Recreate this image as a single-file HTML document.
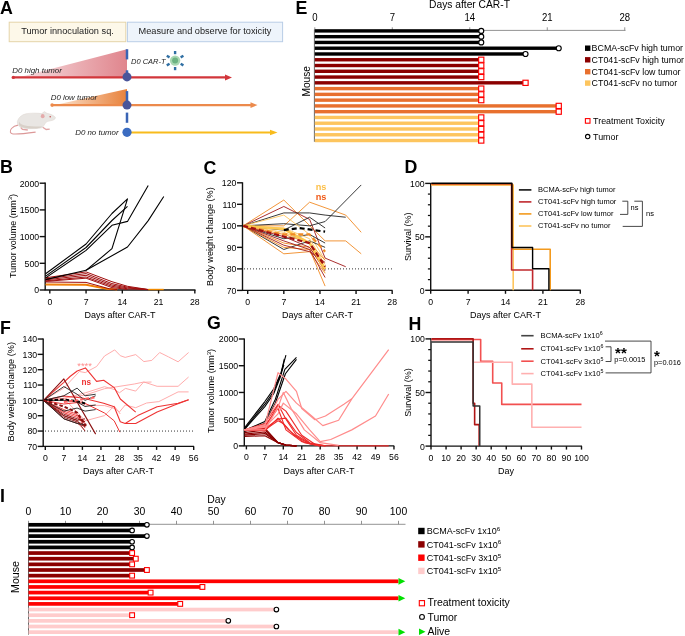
<!DOCTYPE html>
<html><head><meta charset="utf-8"><style>html,body{margin:0;padding:0;background:#fff;width:685px;height:636px;overflow:hidden}svg{display:block}svg,text{font-family:"Liberation Sans",sans-serif}</style></head>
<body><svg style="will-change:transform" width="685" height="636" viewBox="0 0 685 636" font-family="Liberation Sans, sans-serif">
<rect width="685" height="636" fill="#fff"/>
<text x="0.00" y="14.20" font-size="17.8" text-anchor="start" fill="#000" font-weight="bold">A</text>
<rect x="9.20" y="22.20" width="116.60" height="19.50" fill="#fdf8e9" stroke="#e4d4a8" stroke-width="1"/>
<text x="67.50" y="34.00" font-size="9.2" text-anchor="middle" fill="#222">Tumor innoculation sq.</text>
<rect x="127.40" y="22.20" width="155.20" height="19.50" fill="#eef4fb" stroke="#b9cde6" stroke-width="1"/>
<text x="205.00" y="34.00" font-size="9.2" text-anchor="middle" fill="#222">Measure and observe for toxicity</text>
<defs>
<linearGradient id="gr" x1="0" x2="1" y1="0" y2="0"><stop offset="0" stop-color="#f7dfe1"/><stop offset="1" stop-color="#e0858d"/></linearGradient>
<linearGradient id="go" x1="0" x2="1" y1="0" y2="0"><stop offset="0" stop-color="#fbe3cf"/><stop offset="1" stop-color="#e8823c"/></linearGradient>
</defs>
<polygon points="18,77.4 127,49.2 127,77.4" fill="url(#gr)"/>
<line x1="13.30" y1="77.40" x2="226.00" y2="77.40" stroke="#d2363b" stroke-width="2.3"/>
<circle cx="13.30" cy="77.40" r="1.70" fill="#d2363b" stroke="none" stroke-width="1"/>
<polygon points="225,74.4 232,77.4 225,80.4" fill="#d2363b"/>
<text x="12.30" y="73.00" font-size="7.9" text-anchor="start" fill="#222" font-style="italic">D0 high tumor</text>
<line x1="127.00" y1="49.20" x2="127.00" y2="59.40" stroke="#3a64b5" stroke-width="2.5"/>
<line x1="127.00" y1="70.30" x2="127.00" y2="74.00" stroke="#3a64b5" stroke-width="2.5"/>
<circle cx="127.00" cy="76.90" r="4.50" fill="#4a559a" stroke="none" stroke-width="1"/>
<text x="131.00" y="64.40" font-size="7.5" text-anchor="start" fill="#222" font-style="italic">D0 CAR-T</text>
<rect x="173.90" y="51.00" width="2.4" height="3.2" fill="#2f6fa3" transform="rotate(0 175.10 52.60)"/>
<rect x="166.97" y="55.00" width="2.4" height="3.2" fill="#2f6fa3" transform="rotate(-60 168.17 56.60)"/>
<rect x="166.97" y="63.00" width="2.4" height="3.2" fill="#2f6fa3" transform="rotate(-120 168.17 64.60)"/>
<rect x="173.90" y="67.00" width="2.4" height="3.2" fill="#2f6fa3" transform="rotate(-180 175.10 68.60)"/>
<rect x="180.83" y="63.00" width="2.4" height="3.2" fill="#2f6fa3" transform="rotate(-240 182.03 64.60)"/>
<rect x="180.83" y="55.00" width="2.4" height="3.2" fill="#2f6fa3" transform="rotate(-300 182.03 56.60)"/>
<circle cx="175.10" cy="60.60" r="5.20" fill="#a9d8b2" stroke="none" stroke-width="1"/>
<circle cx="175.10" cy="60.60" r="3.00" fill="#6db383" stroke="none" stroke-width="1"/>
<polygon points="55,105.1 127,89 127,105.1" fill="url(#go)"/>
<line x1="52.10" y1="105.10" x2="252.00" y2="105.10" stroke="#ec8a4c" stroke-width="2.2"/>
<circle cx="52.10" cy="105.10" r="1.80" fill="#ec8a4c" stroke="none" stroke-width="1"/>
<polygon points="250.5,102.3 257.5,105.1 250.5,107.9" fill="#ec8a4c"/>
<text x="50.70" y="99.60" font-size="7.9" text-anchor="start" fill="#222" font-style="italic">D0 low tumor</text>
<line x1="127.00" y1="91.10" x2="127.00" y2="101.30" stroke="#3a64b5" stroke-width="2.5"/>
<circle cx="127.00" cy="105.10" r="4.50" fill="#4a559a" stroke="none" stroke-width="1"/>
<line x1="127.00" y1="112.60" x2="127.00" y2="122.80" stroke="#3a64b5" stroke-width="2.5"/>
<line x1="127.00" y1="132.50" x2="271.50" y2="132.50" stroke="#f8bb1c" stroke-width="2.2"/>
<polygon points="270,129.7 277.5,132.5 270,135.3" fill="#f8bb1c"/>
<circle cx="127.00" cy="132.30" r="4.60" fill="#3b6cc1" stroke="none" stroke-width="1"/>
<text x="75.20" y="135.30" font-size="7.9" text-anchor="start" fill="#222" font-style="italic">D0 no tumor</text>
<g>
<path d="M18.1,125.1 C15,125.5 13.2,126.5 11.5,128.5 C9.5,131 10,133.6 13,134 C17,134.3 25,133.6 35.6,132.1" fill="none" stroke="#dc9898" stroke-width="1.1"/>
<path d="M17.3,121.6 C18.5,117.5 21.5,114.8 26,113.8 C31,112.9 37,113 41.8,113.6 L44.4,111.6 L47,113.3 C50,114 53,114.8 55.3,117.2 C55.8,118.4 54.5,119.6 52.7,120.3 C50,121 47.5,121.3 46.2,122.1 C44.5,124.5 43,127 41.8,127.8 C37,128.8 31.3,128.8 26,128.5 C22,128.3 19.5,127.5 18.1,125.1 C17.5,124 17.2,122.8 17.3,121.6 Z" fill="#e9e6e3" stroke="#dcd5cf" stroke-width="0.5"/>
<path d="M19,125.2 C21,127.5 26,128.4 32,128.6 C37,128.7 41,128 42.5,126.5 C38,126.8 30,126.5 24,125.2 C21,124.5 19.5,123 19,121.5 Z" fill="#d8d0c8"/>
<ellipse cx="42.7" cy="116.2" rx="1.9" ry="2.1" fill="#e4aaaa"/>
<circle cx="50.2" cy="116.7" r="0.75" fill="#c04848"/>
<path d="M20.8,127.6 L22.5,129.5 L27.8,130" fill="none" stroke="#e0a4a4" stroke-width="1.3"/>
<path d="M42.7,127.3 L46.2,129.5 L49.7,129.1" fill="none" stroke="#e0a4a4" stroke-width="1.3"/>
</g>
<text x="295.60" y="14.00" font-size="17.8" text-anchor="start" fill="#000" font-weight="bold">E</text>
<text x="469.50" y="8.00" font-size="10.25" text-anchor="middle" fill="#000">Days after CAR-T</text>
<line x1="314.80" y1="30.40" x2="625.50" y2="30.40" stroke="#777" stroke-width="0.8"/>
<line x1="314.40" y1="29.50" x2="314.40" y2="141.80" stroke="#555" stroke-width="0.9"/>
<line x1="314.80" y1="27.30" x2="314.80" y2="30.40" stroke="#777" stroke-width="0.8"/>
<text x="0" y="0" transform="translate(314.80,20.90) scale(0.93,1)" font-size="10.3" text-anchor="middle" fill="#000">0</text>
<line x1="392.29" y1="27.30" x2="392.29" y2="30.40" stroke="#777" stroke-width="0.8"/>
<text x="0" y="0" transform="translate(392.29,20.90) scale(0.93,1)" font-size="10.3" text-anchor="middle" fill="#000">7</text>
<line x1="469.78" y1="27.30" x2="469.78" y2="30.40" stroke="#777" stroke-width="0.8"/>
<text x="0" y="0" transform="translate(469.78,20.90) scale(0.93,1)" font-size="10.3" text-anchor="middle" fill="#000">14</text>
<line x1="547.27" y1="27.30" x2="547.27" y2="30.40" stroke="#777" stroke-width="0.8"/>
<text x="0" y="0" transform="translate(547.27,20.90) scale(0.93,1)" font-size="10.3" text-anchor="middle" fill="#000">21</text>
<line x1="624.76" y1="27.30" x2="624.76" y2="30.40" stroke="#777" stroke-width="0.8"/>
<text x="0" y="0" transform="translate(624.76,20.90) scale(0.93,1)" font-size="10.3" text-anchor="middle" fill="#000">28</text>
<text x="0" y="0" font-size="10.2" text-anchor="middle" fill="#000" transform="translate(310.20,81.30) rotate(-90)">Mouse</text>
<rect x="314.80" y="29.20" width="166.05" height="3.40" fill="#000000" stroke="none" stroke-width="1"/>
<rect x="314.80" y="34.97" width="166.05" height="3.40" fill="#000000" stroke="none" stroke-width="1"/>
<rect x="314.80" y="40.74" width="166.05" height="3.40" fill="#000000" stroke="none" stroke-width="1"/>
<rect x="314.80" y="46.51" width="243.54" height="3.40" fill="#000000" stroke="none" stroke-width="1"/>
<rect x="314.80" y="52.28" width="210.33" height="3.40" fill="#000000" stroke="none" stroke-width="1"/>
<rect x="314.80" y="58.05" width="166.05" height="3.40" fill="#8b0000" stroke="none" stroke-width="1"/>
<rect x="314.80" y="63.82" width="166.05" height="3.40" fill="#8b0000" stroke="none" stroke-width="1"/>
<rect x="314.80" y="69.59" width="166.05" height="3.40" fill="#8b0000" stroke="none" stroke-width="1"/>
<rect x="314.80" y="75.36" width="166.05" height="3.40" fill="#8b0000" stroke="none" stroke-width="1"/>
<rect x="314.80" y="81.13" width="210.33" height="3.40" fill="#8b0000" stroke="none" stroke-width="1"/>
<rect x="314.80" y="86.90" width="166.05" height="3.40" fill="#e8702e" stroke="none" stroke-width="1"/>
<rect x="314.80" y="92.67" width="166.05" height="3.40" fill="#e8702e" stroke="none" stroke-width="1"/>
<rect x="314.80" y="98.44" width="166.05" height="3.40" fill="#e8702e" stroke="none" stroke-width="1"/>
<rect x="314.80" y="104.21" width="243.54" height="3.40" fill="#e8702e" stroke="none" stroke-width="1"/>
<rect x="314.80" y="109.98" width="243.54" height="3.40" fill="#e8702e" stroke="none" stroke-width="1"/>
<rect x="314.80" y="115.75" width="166.05" height="3.40" fill="#fdc55e" stroke="none" stroke-width="1"/>
<rect x="314.80" y="121.52" width="166.05" height="3.40" fill="#fdc55e" stroke="none" stroke-width="1"/>
<rect x="314.80" y="127.29" width="166.05" height="3.40" fill="#fdc55e" stroke="none" stroke-width="1"/>
<rect x="314.80" y="133.06" width="166.05" height="3.40" fill="#fdc55e" stroke="none" stroke-width="1"/>
<rect x="314.80" y="138.83" width="166.05" height="3.40" fill="#fdc55e" stroke="none" stroke-width="1"/>
<circle cx="481.25" cy="30.90" r="2.50" fill="#fff" stroke="#000" stroke-width="1.15"/>
<circle cx="481.25" cy="36.67" r="2.50" fill="#fff" stroke="#000" stroke-width="1.15"/>
<circle cx="481.25" cy="42.44" r="2.50" fill="#fff" stroke="#000" stroke-width="1.15"/>
<circle cx="558.74" cy="48.21" r="2.50" fill="#fff" stroke="#000" stroke-width="1.15"/>
<circle cx="525.53" cy="53.98" r="2.50" fill="#fff" stroke="#000" stroke-width="1.15"/>
<rect x="478.65" y="57.15" width="5.20" height="5.20" fill="#fff" stroke="#f00" stroke-width="1.15"/>
<rect x="478.65" y="62.92" width="5.20" height="5.20" fill="#fff" stroke="#f00" stroke-width="1.15"/>
<rect x="478.65" y="68.69" width="5.20" height="5.20" fill="#fff" stroke="#f00" stroke-width="1.15"/>
<rect x="478.65" y="74.46" width="5.20" height="5.20" fill="#fff" stroke="#f00" stroke-width="1.15"/>
<rect x="522.93" y="80.23" width="5.20" height="5.20" fill="#fff" stroke="#f00" stroke-width="1.15"/>
<rect x="478.65" y="86.00" width="5.20" height="5.20" fill="#fff" stroke="#f00" stroke-width="1.15"/>
<rect x="478.65" y="91.77" width="5.20" height="5.20" fill="#fff" stroke="#f00" stroke-width="1.15"/>
<rect x="478.65" y="97.54" width="5.20" height="5.20" fill="#fff" stroke="#f00" stroke-width="1.15"/>
<rect x="556.14" y="103.31" width="5.20" height="5.20" fill="#fff" stroke="#f00" stroke-width="1.15"/>
<rect x="556.14" y="109.08" width="5.20" height="5.20" fill="#fff" stroke="#f00" stroke-width="1.15"/>
<rect x="478.65" y="114.85" width="5.20" height="5.20" fill="#fff" stroke="#f00" stroke-width="1.15"/>
<rect x="478.65" y="120.62" width="5.20" height="5.20" fill="#fff" stroke="#f00" stroke-width="1.15"/>
<rect x="478.65" y="126.39" width="5.20" height="5.20" fill="#fff" stroke="#f00" stroke-width="1.15"/>
<rect x="478.65" y="132.16" width="5.20" height="5.20" fill="#fff" stroke="#f00" stroke-width="1.15"/>
<rect x="478.65" y="137.93" width="5.20" height="5.20" fill="#fff" stroke="#f00" stroke-width="1.15"/>
<rect x="585.00" y="45.50" width="5.40" height="5.40" fill="#000" stroke="none" stroke-width="1"/>
<text x="591.60" y="51.40" font-size="8.85" text-anchor="start" fill="#000">BCMA-scFv high tumor</text>
<rect x="585.00" y="57.10" width="5.40" height="5.40" fill="#8b0000" stroke="none" stroke-width="1"/>
<text x="591.60" y="63.00" font-size="8.85" text-anchor="start" fill="#000">CT041-scFv high tumor</text>
<rect x="585.00" y="69.00" width="5.40" height="5.40" fill="#e8702e" stroke="none" stroke-width="1"/>
<text x="591.60" y="74.90" font-size="8.85" text-anchor="start" fill="#000">CT041-scFv low tumor</text>
<rect x="585.00" y="80.40" width="5.40" height="5.40" fill="#fdc55e" stroke="none" stroke-width="1"/>
<text x="591.60" y="86.30" font-size="8.85" text-anchor="start" fill="#000">CT041-scFv no tumor</text>
<rect x="585.40" y="118.60" width="4.60" height="4.60" fill="#fff" stroke="#f00" stroke-width="1.1"/>
<text x="593.10" y="124.10" font-size="8.9" text-anchor="start" fill="#000">Treatment Toxicity</text>
<circle cx="587.70" cy="136.60" r="2.20" fill="#fff" stroke="#000" stroke-width="1.1"/>
<text x="593.10" y="139.80" font-size="8.9" text-anchor="start" fill="#000">Tumor</text>
<text x="0.00" y="173.20" font-size="17.8" text-anchor="start" fill="#000" font-weight="bold">B</text>
<line x1="45.20" y1="182.50" x2="45.20" y2="290.00" stroke="#111" stroke-width="1.4"/>
<line x1="39.70" y1="290.00" x2="45.20" y2="290.00" stroke="#111" stroke-width="1.4"/>
<text x="0" y="0" transform="translate(39.10,293.40) scale(0.93,1)" font-size="9.4" text-anchor="end" fill="#000">0</text>
<line x1="39.70" y1="263.30" x2="45.20" y2="263.30" stroke="#111" stroke-width="1.4"/>
<text x="0" y="0" transform="translate(39.10,266.70) scale(0.93,1)" font-size="9.4" text-anchor="end" fill="#000">500</text>
<line x1="39.70" y1="236.60" x2="45.20" y2="236.60" stroke="#111" stroke-width="1.4"/>
<text x="0" y="0" transform="translate(39.10,240.00) scale(0.93,1)" font-size="9.4" text-anchor="end" fill="#000">1000</text>
<line x1="39.70" y1="209.90" x2="45.20" y2="209.90" stroke="#111" stroke-width="1.4"/>
<text x="0" y="0" transform="translate(39.10,213.30) scale(0.93,1)" font-size="9.4" text-anchor="end" fill="#000">1500</text>
<line x1="39.70" y1="183.20" x2="45.20" y2="183.20" stroke="#111" stroke-width="1.4"/>
<text x="0" y="0" transform="translate(39.10,186.60) scale(0.93,1)" font-size="9.4" text-anchor="end" fill="#000">2000</text>
<line x1="44.70" y1="290.00" x2="195.50" y2="290.00" stroke="#111" stroke-width="1.4"/>
<line x1="49.80" y1="290.00" x2="49.80" y2="293.50" stroke="#111" stroke-width="1.4"/>
<text x="0" y="0" transform="translate(49.80,304.50) scale(0.93,1)" font-size="9.4" text-anchor="middle" fill="#000">0</text>
<line x1="86.06" y1="290.00" x2="86.06" y2="293.50" stroke="#111" stroke-width="1.4"/>
<text x="0" y="0" transform="translate(86.06,304.50) scale(0.93,1)" font-size="9.4" text-anchor="middle" fill="#000">7</text>
<line x1="122.32" y1="290.00" x2="122.32" y2="293.50" stroke="#111" stroke-width="1.4"/>
<text x="0" y="0" transform="translate(122.32,304.50) scale(0.93,1)" font-size="9.4" text-anchor="middle" fill="#000">14</text>
<line x1="158.58" y1="290.00" x2="158.58" y2="293.50" stroke="#111" stroke-width="1.4"/>
<text x="0" y="0" transform="translate(158.58,304.50) scale(0.93,1)" font-size="9.4" text-anchor="middle" fill="#000">21</text>
<line x1="194.84" y1="290.00" x2="194.84" y2="293.50" stroke="#111" stroke-width="1.4"/>
<text x="0" y="0" transform="translate(194.84,304.50) scale(0.93,1)" font-size="9.4" text-anchor="middle" fill="#000">28</text>
<text x="120.00" y="318.00" font-size="9.0" text-anchor="middle" fill="#000">Days after CAR-T</text>
<text x="0" y="0" font-size="9.0" text-anchor="middle" transform="translate(15.5,236) rotate(-90)">Tumor volume (mm<tspan font-size="6" dy="-3.5">3</tspan><tspan dy="3.5">)</tspan></text>
<polyline points="45.60,284.10 86.06,284.40 106.78,288.60 117.14,289.50" fill="none" stroke="#f07c00" stroke-width="1.3" stroke-linejoin="round"/>
<polyline points="45.60,284.90 86.06,285.20 106.78,289.00 117.14,289.50" fill="none" stroke="#f07c00" stroke-width="1.3" stroke-linejoin="round"/>
<polyline points="45.60,282.00 86.06,282.40 109.37,288.80 117.14,289.60" fill="none" stroke="#a00d0d" stroke-width="1.0" stroke-linejoin="round"/>
<polyline points="45.60,277.80 86.06,271.90 111.96,281.70 127.50,286.30 148.22,289.50" fill="none" stroke="#a00d0d" stroke-width="1.0" stroke-linejoin="round"/>
<polyline points="45.60,278.80 86.06,273.60 111.96,283.60 127.50,287.20 148.22,289.60" fill="none" stroke="#a00d0d" stroke-width="1.0" stroke-linejoin="round"/>
<polyline points="45.60,279.80 86.06,275.30 111.96,285.00 127.50,288.00 148.22,289.60" fill="none" stroke="#a00d0d" stroke-width="1.0" stroke-linejoin="round"/>
<polyline points="45.60,280.80 86.06,277.00 111.96,286.30 127.50,288.80 148.22,289.60" fill="none" stroke="#a00d0d" stroke-width="1.0" stroke-linejoin="round"/>
<polyline points="45.60,281.40 86.06,278.20 111.96,287.60 127.50,289.40" fill="none" stroke="#a00d0d" stroke-width="1.0" stroke-linejoin="round"/>
<polyline points="148.22,289.50 163.76,289.50" fill="none" stroke="#f08a00" stroke-width="1.4" stroke-linejoin="round"/>
<polyline points="45.60,273.80 86.06,244.00 111.96,213.50 127.50,198.90 111.96,248.70 86.06,270.30 45.60,279.60" fill="none" stroke="#000" stroke-width="1.1" stroke-linejoin="round"/>
<polyline points="45.60,276.10 86.06,247.50 111.96,220.50 127.50,206.40" fill="none" stroke="#000" stroke-width="1.1" stroke-linejoin="round"/>
<polyline points="45.60,277.90 86.06,250.40 111.96,225.30 127.50,221.40 148.22,185.50" fill="none" stroke="#000" stroke-width="1.1" stroke-linejoin="round"/>
<polyline points="86.06,270.30 127.50,247.00 148.22,220.60 163.76,196.50" fill="none" stroke="#000" stroke-width="1.1" stroke-linejoin="round"/>
<text x="203.60" y="173.90" font-size="17.8" text-anchor="start" fill="#000" font-weight="bold">C</text>
<line x1="242.50" y1="182.30" x2="242.50" y2="290.40" stroke="#111" stroke-width="1.4"/>
<line x1="237.00" y1="290.40" x2="242.50" y2="290.40" stroke="#111" stroke-width="1.4"/>
<text x="0" y="0" transform="translate(236.40,293.80) scale(0.93,1)" font-size="9.4" text-anchor="end" fill="#000">70</text>
<line x1="237.00" y1="268.88" x2="242.50" y2="268.88" stroke="#111" stroke-width="1.4"/>
<text x="0" y="0" transform="translate(236.40,272.28) scale(0.93,1)" font-size="9.4" text-anchor="end" fill="#000">80</text>
<line x1="237.00" y1="247.36" x2="242.50" y2="247.36" stroke="#111" stroke-width="1.4"/>
<text x="0" y="0" transform="translate(236.40,250.76) scale(0.93,1)" font-size="9.4" text-anchor="end" fill="#000">90</text>
<line x1="237.00" y1="225.84" x2="242.50" y2="225.84" stroke="#111" stroke-width="1.4"/>
<text x="0" y="0" transform="translate(236.40,229.24) scale(0.93,1)" font-size="9.4" text-anchor="end" fill="#000">100</text>
<line x1="237.00" y1="204.32" x2="242.50" y2="204.32" stroke="#111" stroke-width="1.4"/>
<text x="0" y="0" transform="translate(236.40,207.72) scale(0.93,1)" font-size="9.4" text-anchor="end" fill="#000">110</text>
<line x1="237.00" y1="182.80" x2="242.50" y2="182.80" stroke="#111" stroke-width="1.4"/>
<text x="0" y="0" transform="translate(236.40,186.20) scale(0.93,1)" font-size="9.4" text-anchor="end" fill="#000">120</text>
<line x1="242.00" y1="290.40" x2="392.60" y2="290.40" stroke="#111" stroke-width="1.4"/>
<line x1="247.70" y1="290.40" x2="247.70" y2="293.90" stroke="#111" stroke-width="1.4"/>
<text x="0" y="0" transform="translate(247.70,304.60) scale(0.93,1)" font-size="9.4" text-anchor="middle" fill="#000">0</text>
<line x1="283.82" y1="290.40" x2="283.82" y2="293.90" stroke="#111" stroke-width="1.4"/>
<text x="0" y="0" transform="translate(283.82,304.60) scale(0.93,1)" font-size="9.4" text-anchor="middle" fill="#000">7</text>
<line x1="319.94" y1="290.40" x2="319.94" y2="293.90" stroke="#111" stroke-width="1.4"/>
<text x="0" y="0" transform="translate(319.94,304.60) scale(0.93,1)" font-size="9.4" text-anchor="middle" fill="#000">14</text>
<line x1="356.06" y1="290.40" x2="356.06" y2="293.90" stroke="#111" stroke-width="1.4"/>
<text x="0" y="0" transform="translate(356.06,304.60) scale(0.93,1)" font-size="9.4" text-anchor="middle" fill="#000">21</text>
<line x1="392.18" y1="290.40" x2="392.18" y2="293.90" stroke="#111" stroke-width="1.4"/>
<text x="0" y="0" transform="translate(392.18,304.60) scale(0.93,1)" font-size="9.4" text-anchor="middle" fill="#000">28</text>
<text x="317.60" y="318.20" font-size="9.0" text-anchor="middle" fill="#000">Days after CAR-T</text>
<text x="0" y="0" font-size="9.1" text-anchor="middle" fill="#000" transform="translate(212.70,236.60) rotate(-90)">Body weight change (%)</text>
<line x1="244" y1="268.88" x2="392" y2="268.88" stroke="#333" stroke-width="1" stroke-dasharray="1,2"/>
<polyline points="243.20,225.84 283.82,200.02 325.10,240.90 345.74,240.90 361.22,253.82" fill="none" stroke="#f08a24" stroke-width="0.9" stroke-linejoin="round"/>
<polyline points="243.20,225.84 283.82,225.84 309.62,202.17 345.74,215.08 361.22,232.30" fill="none" stroke="#f08a24" stroke-width="0.9" stroke-linejoin="round"/>
<polyline points="243.20,225.84 283.82,206.47 309.62,219.38 325.10,258.12 345.74,266.73" fill="none" stroke="#a01818" stroke-width="0.9" stroke-linejoin="round"/>
<polyline points="243.20,225.84 283.82,212.93 309.62,212.93 325.10,215.08 345.74,217.23" fill="none" stroke="#222" stroke-width="0.9" stroke-linejoin="round"/>
<polyline points="243.20,225.84 283.82,223.69 309.62,225.84 325.10,221.54 361.22,184.95" fill="none" stroke="#222" stroke-width="0.9" stroke-linejoin="round"/>
<polyline points="243.20,225.84 283.82,230.14 309.62,217.23 325.10,227.99" fill="none" stroke="#222" stroke-width="0.9" stroke-linejoin="round"/>
<polyline points="243.20,225.84 283.82,215.08 309.62,234.45 325.10,260.27" fill="none" stroke="#fdc55e" stroke-width="0.9" stroke-linejoin="round"/>
<polyline points="243.20,225.84 283.82,249.51 309.62,240.90 325.10,247.36" fill="none" stroke="#222" stroke-width="0.9" stroke-linejoin="round"/>
<polyline points="243.20,225.84 283.82,238.75 309.62,234.45 325.10,243.06" fill="none" stroke="#222" stroke-width="0.9" stroke-linejoin="round"/>
<polyline points="243.20,225.84 283.82,253.82 309.62,251.66 325.10,273.18" fill="none" stroke="#f08a24" stroke-width="0.9" stroke-linejoin="round"/>
<polyline points="243.20,225.84 283.82,247.36 309.62,249.51 325.10,286.10" fill="none" stroke="#f08a24" stroke-width="0.9" stroke-linejoin="round"/>
<polyline points="243.20,225.84 283.82,243.06 309.62,247.36 325.10,268.88" fill="none" stroke="#f08a24" stroke-width="0.9" stroke-linejoin="round"/>
<polyline points="243.20,225.84 283.82,240.90 309.62,249.51 325.10,277.49" fill="none" stroke="#a01818" stroke-width="0.9" stroke-linejoin="round"/>
<polyline points="243.20,225.84 283.82,236.60 309.62,247.36 325.10,271.03" fill="none" stroke="#a01818" stroke-width="0.9" stroke-linejoin="round"/>
<polyline points="243.20,225.84 283.82,232.30 309.62,243.06 325.10,273.18" fill="none" stroke="#fdc55e" stroke-width="0.9" stroke-linejoin="round"/>
<polyline points="243.20,225.84 283.82,227.99 309.62,238.75 325.10,264.58" fill="none" stroke="#fdc55e" stroke-width="0.9" stroke-linejoin="round"/>
<polyline points="243.20,225.84 283.82,234.45 309.62,243.06 325.10,260.27" fill="none" stroke="#f08a24" stroke-width="0.9" stroke-linejoin="round"/>
<polyline points="243.20,225.84 283.82,245.21 309.62,251.66 325.10,262.42" fill="none" stroke="#a01818" stroke-width="0.9" stroke-linejoin="round"/>
<polyline points="243.20,225.84 283.82,229.07 309.62,243.06 325.10,268.88" fill="none" stroke="#fcc850" stroke-width="2.6" stroke-linejoin="round"/>
<polyline points="283.82,230.14 299.30,227.99 325.10,231.65" fill="none" stroke="#000" stroke-width="2.2" stroke-linejoin="round" stroke-dasharray="5,3"/>
<polyline points="243.20,225.84 283.82,234.45 309.62,234.45 325.10,251.66" fill="none" stroke="#f08a24" stroke-width="2.2" stroke-linejoin="round" stroke-dasharray="5,3"/>
<polyline points="243.20,225.84 283.82,236.60 309.62,243.06 325.10,266.73" fill="none" stroke="#a01010" stroke-width="2.2" stroke-linejoin="round" stroke-dasharray="5,3"/>
<text x="321.00" y="190.00" font-size="9.2" text-anchor="middle" fill="#fcbf48" font-weight="bold">ns</text>
<text x="321.00" y="199.80" font-size="9.2" text-anchor="middle" fill="#f05a18" font-weight="bold">ns</text>
<text x="404.50" y="173.00" font-size="17.8" text-anchor="start" fill="#000" font-weight="bold">D</text>
<line x1="430.70" y1="182.90" x2="430.70" y2="290.30" stroke="#111" stroke-width="1.4"/>
<line x1="425.20" y1="290.30" x2="430.70" y2="290.30" stroke="#111" stroke-width="1.4"/>
<text x="0" y="0" transform="translate(424.60,293.70) scale(0.93,1)" font-size="9.4" text-anchor="end" fill="#000">0</text>
<line x1="425.20" y1="236.85" x2="430.70" y2="236.85" stroke="#111" stroke-width="1.4"/>
<text x="0" y="0" transform="translate(424.60,240.25) scale(0.93,1)" font-size="9.4" text-anchor="end" fill="#000">50</text>
<line x1="425.20" y1="183.40" x2="430.70" y2="183.40" stroke="#111" stroke-width="1.4"/>
<text x="0" y="0" transform="translate(424.60,186.80) scale(0.93,1)" font-size="9.4" text-anchor="end" fill="#000">100</text>
<line x1="427.90" y1="279.61" x2="430.70" y2="279.61" stroke="#111" stroke-width="1.26"/>
<line x1="427.90" y1="268.92" x2="430.70" y2="268.92" stroke="#111" stroke-width="1.26"/>
<line x1="427.90" y1="258.23" x2="430.70" y2="258.23" stroke="#111" stroke-width="1.26"/>
<line x1="427.90" y1="247.54" x2="430.70" y2="247.54" stroke="#111" stroke-width="1.26"/>
<line x1="427.90" y1="226.16" x2="430.70" y2="226.16" stroke="#111" stroke-width="1.26"/>
<line x1="427.90" y1="215.47" x2="430.70" y2="215.47" stroke="#111" stroke-width="1.26"/>
<line x1="427.90" y1="204.78" x2="430.70" y2="204.78" stroke="#111" stroke-width="1.26"/>
<line x1="427.90" y1="194.09" x2="430.70" y2="194.09" stroke="#111" stroke-width="1.26"/>
<line x1="430.20" y1="290.30" x2="580.80" y2="290.30" stroke="#111" stroke-width="1.4"/>
<line x1="430.70" y1="290.30" x2="430.70" y2="293.80" stroke="#111" stroke-width="1.4"/>
<text x="0" y="0" transform="translate(430.70,304.60) scale(0.93,1)" font-size="9.4" text-anchor="middle" fill="#000">0</text>
<line x1="468.10" y1="290.30" x2="468.10" y2="293.80" stroke="#111" stroke-width="1.4"/>
<text x="0" y="0" transform="translate(468.10,304.60) scale(0.93,1)" font-size="9.4" text-anchor="middle" fill="#000">7</text>
<line x1="505.50" y1="290.30" x2="505.50" y2="293.80" stroke="#111" stroke-width="1.4"/>
<text x="0" y="0" transform="translate(505.50,304.60) scale(0.93,1)" font-size="9.4" text-anchor="middle" fill="#000">14</text>
<line x1="542.90" y1="290.30" x2="542.90" y2="293.80" stroke="#111" stroke-width="1.4"/>
<text x="0" y="0" transform="translate(542.90,304.60) scale(0.93,1)" font-size="9.4" text-anchor="middle" fill="#000">21</text>
<line x1="580.30" y1="290.30" x2="580.30" y2="293.80" stroke="#111" stroke-width="1.4"/>
<text x="0" y="0" transform="translate(580.30,304.60) scale(0.93,1)" font-size="9.4" text-anchor="middle" fill="#000">28</text>
<text x="505.50" y="318.20" font-size="9.0" text-anchor="middle" fill="#000">Days after CAR-T</text>
<text x="0" y="0" font-size="9.0" text-anchor="middle" fill="#000" transform="translate(411.00,236.80) rotate(-90)">Survival (%)</text>
<polyline points="431.30,185.00 513.20,185.00 513.20,290.30" fill="none" stroke="#fdc55e" stroke-width="1.6" stroke-linejoin="round"/>
<polyline points="431.30,184.40 512.50,184.40 512.50,249.30 550.20,249.30 550.20,290.30" fill="none" stroke="#f39a1e" stroke-width="1.6" stroke-linejoin="round"/>
<polyline points="431.30,183.80 511.60,183.80 511.60,270.00 532.60,270.00 532.60,290.30" fill="none" stroke="#c0282d" stroke-width="1.6" stroke-linejoin="round"/>
<polyline points="431.30,183.20 511.90,183.20 511.90,247.50 532.60,247.50 532.60,268.70 548.90,268.70 548.90,290.30" fill="none" stroke="#000" stroke-width="1.4" stroke-linejoin="round"/>
<line x1="518.90" y1="189.90" x2="531.40" y2="189.90" stroke="#111" stroke-width="1.6"/>
<text x="538.00" y="191.90" font-size="7.5" text-anchor="start" fill="#000">BCMA-scFv high tumor</text>
<line x1="518.90" y1="201.90" x2="531.40" y2="201.90" stroke="#c0282d" stroke-width="1.6"/>
<text x="538.00" y="203.90" font-size="7.5" text-anchor="start" fill="#000">CT041-scFv high tumor</text>
<line x1="518.90" y1="213.90" x2="531.40" y2="213.90" stroke="#f39a1e" stroke-width="1.6"/>
<text x="538.00" y="215.90" font-size="7.5" text-anchor="start" fill="#000">CT041-scFv low tumor</text>
<line x1="518.90" y1="226.00" x2="531.40" y2="226.00" stroke="#fdc55e" stroke-width="1.6"/>
<text x="538.00" y="228.00" font-size="7.5" text-anchor="start" fill="#000">CT041-scFv no tumor</text>
<polyline points="622.30,201.20 627.80,201.20 627.80,214.40 620.00,214.40" fill="none" stroke="#333" stroke-width="0.9" stroke-linejoin="round"/>
<text x="634.50" y="209.60" font-size="7.5" text-anchor="middle" fill="#000">ns</text>
<polyline points="634.30,201.20 642.40,201.20 642.40,226.40 622.70,226.40" fill="none" stroke="#333" stroke-width="0.9" stroke-linejoin="round"/>
<text x="650.00" y="215.80" font-size="7.5" text-anchor="middle" fill="#000">ns</text>
<text x="0.00" y="333.60" font-size="17.8" text-anchor="start" fill="#000" font-weight="bold">F</text>
<line x1="43.20" y1="338.50" x2="43.20" y2="446.40" stroke="#111" stroke-width="1.4"/>
<line x1="37.70" y1="446.40" x2="43.20" y2="446.40" stroke="#111" stroke-width="1.4"/>
<text x="0" y="0" transform="translate(37.10,449.80) scale(0.93,1)" font-size="9.4" text-anchor="end" fill="#000">70</text>
<line x1="37.70" y1="431.06" x2="43.20" y2="431.06" stroke="#111" stroke-width="1.4"/>
<text x="0" y="0" transform="translate(37.10,434.46) scale(0.93,1)" font-size="9.4" text-anchor="end" fill="#000">80</text>
<line x1="37.70" y1="415.72" x2="43.20" y2="415.72" stroke="#111" stroke-width="1.4"/>
<text x="0" y="0" transform="translate(37.10,419.12) scale(0.93,1)" font-size="9.4" text-anchor="end" fill="#000">90</text>
<line x1="37.70" y1="400.38" x2="43.20" y2="400.38" stroke="#111" stroke-width="1.4"/>
<text x="0" y="0" transform="translate(37.10,403.78) scale(0.93,1)" font-size="9.4" text-anchor="end" fill="#000">100</text>
<line x1="37.70" y1="385.04" x2="43.20" y2="385.04" stroke="#111" stroke-width="1.4"/>
<text x="0" y="0" transform="translate(37.10,388.44) scale(0.93,1)" font-size="9.4" text-anchor="end" fill="#000">110</text>
<line x1="37.70" y1="369.70" x2="43.20" y2="369.70" stroke="#111" stroke-width="1.4"/>
<text x="0" y="0" transform="translate(37.10,373.10) scale(0.93,1)" font-size="9.4" text-anchor="end" fill="#000">120</text>
<line x1="37.70" y1="354.36" x2="43.20" y2="354.36" stroke="#111" stroke-width="1.4"/>
<text x="0" y="0" transform="translate(37.10,357.76) scale(0.93,1)" font-size="9.4" text-anchor="end" fill="#000">130</text>
<line x1="37.70" y1="339.02" x2="43.20" y2="339.02" stroke="#111" stroke-width="1.4"/>
<text x="0" y="0" transform="translate(37.10,342.42) scale(0.93,1)" font-size="9.4" text-anchor="end" fill="#000">140</text>
<line x1="42.70" y1="446.40" x2="194.10" y2="446.40" stroke="#111" stroke-width="1.4"/>
<line x1="45.30" y1="446.40" x2="45.30" y2="449.90" stroke="#111" stroke-width="1.4"/>
<text x="0" y="0" transform="translate(45.30,460.60) scale(0.93,1)" font-size="9.4" text-anchor="middle" fill="#000">0</text>
<line x1="63.85" y1="446.40" x2="63.85" y2="449.90" stroke="#111" stroke-width="1.4"/>
<text x="0" y="0" transform="translate(63.85,460.60) scale(0.93,1)" font-size="9.4" text-anchor="middle" fill="#000">7</text>
<line x1="82.40" y1="446.40" x2="82.40" y2="449.90" stroke="#111" stroke-width="1.4"/>
<text x="0" y="0" transform="translate(82.40,460.60) scale(0.93,1)" font-size="9.4" text-anchor="middle" fill="#000">14</text>
<line x1="100.95" y1="446.40" x2="100.95" y2="449.90" stroke="#111" stroke-width="1.4"/>
<text x="0" y="0" transform="translate(100.95,460.60) scale(0.93,1)" font-size="9.4" text-anchor="middle" fill="#000">21</text>
<line x1="119.50" y1="446.40" x2="119.50" y2="449.90" stroke="#111" stroke-width="1.4"/>
<text x="0" y="0" transform="translate(119.50,460.60) scale(0.93,1)" font-size="9.4" text-anchor="middle" fill="#000">28</text>
<line x1="138.05" y1="446.40" x2="138.05" y2="449.90" stroke="#111" stroke-width="1.4"/>
<text x="0" y="0" transform="translate(138.05,460.60) scale(0.93,1)" font-size="9.4" text-anchor="middle" fill="#000">35</text>
<line x1="156.60" y1="446.40" x2="156.60" y2="449.90" stroke="#111" stroke-width="1.4"/>
<text x="0" y="0" transform="translate(156.60,460.60) scale(0.93,1)" font-size="9.4" text-anchor="middle" fill="#000">42</text>
<line x1="175.15" y1="446.40" x2="175.15" y2="449.90" stroke="#111" stroke-width="1.4"/>
<text x="0" y="0" transform="translate(175.15,460.60) scale(0.93,1)" font-size="9.4" text-anchor="middle" fill="#000">49</text>
<line x1="193.70" y1="446.40" x2="193.70" y2="449.90" stroke="#111" stroke-width="1.4"/>
<text x="0" y="0" transform="translate(193.70,460.60) scale(0.93,1)" font-size="9.4" text-anchor="middle" fill="#000">56</text>
<text x="118.60" y="474.40" font-size="9.0" text-anchor="middle" fill="#000">Days after CAR-T</text>
<text x="0" y="0" font-size="9.2" text-anchor="middle" fill="#000" transform="translate(13.70,391.80) rotate(-90)">Body weight change (%)</text>
<line x1="45" y1="431.06" x2="193" y2="431.06" stroke="#333" stroke-width="1" stroke-dasharray="1,2"/>
<polyline points="43.60,400.38 63.85,388.11 79.40,371.50 85.30,372.60 88.20,371.00 96.60,366.50 104.50,356.00 114.70,349.90 120.30,355.70 125.20,357.40 135.70,354.60 143.90,361.60 151.80,360.40 159.70,352.50 168.50,356.90 178.10,361.80 188.60,352.50" fill="none" stroke="#ffa3a3" stroke-width="0.9" stroke-linejoin="round"/>
<polyline points="43.60,400.38 63.85,398.38 85.30,392.80 104.50,386.70 115.00,389.70 119.40,392.80 125.50,388.40 135.70,391.10 143.40,382.30 151.50,382.00" fill="none" stroke="#ffa3a3" stroke-width="0.9" stroke-linejoin="round"/>
<polyline points="43.60,400.38 63.85,398.38 85.30,395.00 104.50,388.70 134.30,384.00 143.90,382.00 157.10,386.30 178.10,386.30 188.60,377.00" fill="none" stroke="#ffa3a3" stroke-width="0.9" stroke-linejoin="round"/>
<polyline points="43.60,400.38 63.85,398.38 85.30,405.00 104.50,405.60 115.00,408.60 119.40,412.00 125.20,405.00 135.70,407.70 146.60,403.00 158.80,401.60 178.10,391.90 188.60,391.90" fill="none" stroke="#ffa3a3" stroke-width="0.9" stroke-linejoin="round"/>
<polyline points="43.60,400.38 63.85,398.38 85.30,420.80 104.50,415.60 114.20,406.00 120.30,414.00" fill="none" stroke="#ffa3a3" stroke-width="0.9" stroke-linejoin="round"/>
<polyline points="43.60,400.38 63.60,412.00 72.00,418.00 85.30,431.00" fill="none" stroke="#ffa3a3" stroke-width="0.9" stroke-linejoin="round"/>
<polyline points="43.60,400.38 63.85,382.30 70.00,376.50 77.20,371.00 85.40,367.90 96.60,381.40 103.70,380.20 114.20,387.60 120.30,399.00 135.70,412.10" fill="none" stroke="#ee3333" stroke-width="1.1" stroke-linejoin="round"/>
<polyline points="43.60,400.38 63.85,396.00 82.40,398.00 103.70,403.30 114.20,406.80 120.30,421.70 125.20,423.50 135.70,423.50 157.10,412.10 174.60,405.10 188.60,399.80" fill="none" stroke="#ee3333" stroke-width="1.1" stroke-linejoin="round"/>
<polyline points="125.20,423.50 137.80,415.60 157.10,406.80 178.10,403.30 188.60,399.80" fill="none" stroke="#ee3333" stroke-width="1.1" stroke-linejoin="round"/>
<polyline points="43.60,400.38 63.85,404.00 82.40,402.00 104.50,413.00 114.20,420.80 119.90,432.20" fill="none" stroke="#ee3333" stroke-width="1.0" stroke-linejoin="round"/>
<polyline points="43.60,400.38 63.85,378.90 95.65,434.13" fill="none" stroke="#8b1010" stroke-width="1.1" stroke-linejoin="round"/>
<polyline points="43.60,400.38 63.85,409.58 77.10,414.19 85.05,427.99" fill="none" stroke="#ee3333" stroke-width="0.9" stroke-linejoin="round"/>
<polyline points="43.60,400.38 63.85,412.65 77.10,417.25 85.05,423.39" fill="none" stroke="#ee3333" stroke-width="0.9" stroke-linejoin="round"/>
<polyline points="43.60,400.38 63.85,411.12 77.10,415.72 85.05,421.86" fill="none" stroke="#ee3333" stroke-width="0.9" stroke-linejoin="round"/>
<polyline points="43.60,400.38 63.85,415.72 77.10,420.32 85.05,418.79" fill="none" stroke="#8b1010" stroke-width="0.9" stroke-linejoin="round"/>
<polyline points="43.60,400.38 63.85,417.25 77.10,421.86 85.05,424.92" fill="none" stroke="#8b1010" stroke-width="0.9" stroke-linejoin="round"/>
<polyline points="43.60,400.38 63.85,418.79 77.10,423.39 85.05,426.46" fill="none" stroke="#8b1010" stroke-width="0.9" stroke-linejoin="round"/>
<polyline points="43.60,400.38 63.85,414.19 77.10,418.79 85.05,421.86" fill="none" stroke="#8b1010" stroke-width="0.9" stroke-linejoin="round"/>
<polyline points="43.60,400.38 63.85,415.72 77.10,420.32 85.05,431.06" fill="none" stroke="#8b1010" stroke-width="0.9" stroke-linejoin="round"/>
<polyline points="43.60,400.38 63.85,386.57 77.10,394.24 85.05,400.38 95.65,395.78" fill="none" stroke="#222" stroke-width="0.9" stroke-linejoin="round"/>
<polyline points="43.60,400.38 63.85,395.78 77.10,388.11 85.05,395.78 95.65,394.24" fill="none" stroke="#222" stroke-width="0.9" stroke-linejoin="round"/>
<polyline points="43.60,400.38 63.85,400.38 77.10,401.91 85.05,406.52 95.65,404.98" fill="none" stroke="#222" stroke-width="0.9" stroke-linejoin="round"/>
<polyline points="43.60,400.38 63.85,411.12 77.10,408.05 85.05,411.12 95.65,409.58" fill="none" stroke="#222" stroke-width="0.9" stroke-linejoin="round"/>
<polyline points="43.60,400.38 63.85,418.79 77.10,423.39 85.05,424.92" fill="none" stroke="#222" stroke-width="0.9" stroke-linejoin="round"/>
<polyline points="43.60,400.38 63.85,399.61 77.10,401.15 85.05,403.45" fill="none" stroke="#000" stroke-width="2.0" stroke-linejoin="round" stroke-dasharray="3.5,2"/>
<polyline points="43.60,400.38 63.85,406.52 77.10,412.65 85.05,424.92" fill="none" stroke="#8b1010" stroke-width="2.0" stroke-linejoin="round" stroke-dasharray="3.5,2"/>
<polyline points="63.85,401.91 77.10,400.38 85.05,398.85 95.65,397.31" fill="none" stroke="#ff6060" stroke-width="2.0" stroke-linejoin="round" stroke-dasharray="3.5,2"/>
<circle cx="85.05" cy="424.92" r="1.60" fill="#8b1010" stroke="none" stroke-width="1"/>
<text x="84.60" y="369.30" font-size="9.3" text-anchor="middle" fill="#ff8e8e">****</text>
<text x="86.35" y="385.30" font-size="8.2" text-anchor="middle" fill="#ee3333" font-weight="bold">ns</text>
<text x="207.00" y="329.20" font-size="17.8" text-anchor="start" fill="#000" font-weight="bold">G</text>
<line x1="244.30" y1="338.50" x2="244.30" y2="445.90" stroke="#111" stroke-width="1.4"/>
<line x1="238.80" y1="445.90" x2="244.30" y2="445.90" stroke="#111" stroke-width="1.4"/>
<text x="0" y="0" transform="translate(238.20,449.30) scale(0.93,1)" font-size="9.4" text-anchor="end" fill="#000">0</text>
<line x1="238.80" y1="419.17" x2="244.30" y2="419.17" stroke="#111" stroke-width="1.4"/>
<text x="0" y="0" transform="translate(238.20,422.57) scale(0.93,1)" font-size="9.4" text-anchor="end" fill="#000">500</text>
<line x1="238.80" y1="392.45" x2="244.30" y2="392.45" stroke="#111" stroke-width="1.4"/>
<text x="0" y="0" transform="translate(238.20,395.85) scale(0.93,1)" font-size="9.4" text-anchor="end" fill="#000">1000</text>
<line x1="238.80" y1="365.72" x2="244.30" y2="365.72" stroke="#111" stroke-width="1.4"/>
<text x="0" y="0" transform="translate(238.20,369.12) scale(0.93,1)" font-size="9.4" text-anchor="end" fill="#000">1500</text>
<line x1="238.80" y1="339.00" x2="244.30" y2="339.00" stroke="#111" stroke-width="1.4"/>
<text x="0" y="0" transform="translate(238.20,342.40) scale(0.93,1)" font-size="9.4" text-anchor="end" fill="#000">2000</text>
<line x1="243.80" y1="445.90" x2="394.30" y2="445.90" stroke="#111" stroke-width="1.4"/>
<line x1="246.40" y1="445.90" x2="246.40" y2="449.40" stroke="#111" stroke-width="1.4"/>
<text x="0" y="0" transform="translate(246.40,459.60) scale(0.93,1)" font-size="9.4" text-anchor="middle" fill="#000">0</text>
<line x1="264.85" y1="445.90" x2="264.85" y2="449.40" stroke="#111" stroke-width="1.4"/>
<text x="0" y="0" transform="translate(264.85,459.60) scale(0.93,1)" font-size="9.4" text-anchor="middle" fill="#000">7</text>
<line x1="283.29" y1="445.90" x2="283.29" y2="449.40" stroke="#111" stroke-width="1.4"/>
<text x="0" y="0" transform="translate(283.29,459.60) scale(0.93,1)" font-size="9.4" text-anchor="middle" fill="#000">14</text>
<line x1="301.74" y1="445.90" x2="301.74" y2="449.40" stroke="#111" stroke-width="1.4"/>
<text x="0" y="0" transform="translate(301.74,459.60) scale(0.93,1)" font-size="9.4" text-anchor="middle" fill="#000">21</text>
<line x1="320.18" y1="445.90" x2="320.18" y2="449.40" stroke="#111" stroke-width="1.4"/>
<text x="0" y="0" transform="translate(320.18,459.60) scale(0.93,1)" font-size="9.4" text-anchor="middle" fill="#000">28</text>
<line x1="338.62" y1="445.90" x2="338.62" y2="449.40" stroke="#111" stroke-width="1.4"/>
<text x="0" y="0" transform="translate(338.62,459.60) scale(0.93,1)" font-size="9.4" text-anchor="middle" fill="#000">35</text>
<line x1="357.07" y1="445.90" x2="357.07" y2="449.40" stroke="#111" stroke-width="1.4"/>
<text x="0" y="0" transform="translate(357.07,459.60) scale(0.93,1)" font-size="9.4" text-anchor="middle" fill="#000">42</text>
<line x1="375.51" y1="445.90" x2="375.51" y2="449.40" stroke="#111" stroke-width="1.4"/>
<text x="0" y="0" transform="translate(375.51,459.60) scale(0.93,1)" font-size="9.4" text-anchor="middle" fill="#000">49</text>
<line x1="393.96" y1="445.90" x2="393.96" y2="449.40" stroke="#111" stroke-width="1.4"/>
<text x="0" y="0" transform="translate(393.96,459.60) scale(0.93,1)" font-size="9.4" text-anchor="middle" fill="#000">56</text>
<text x="319.00" y="474.00" font-size="9.0" text-anchor="middle" fill="#000">Days after CAR-T</text>
<text x="0" y="0" font-size="9.0" text-anchor="middle" transform="translate(214.3,391) rotate(-90)">Tumor volume (mm<tspan font-size="6" dy="-3.5">3</tspan><tspan dy="3.5">)</tspan></text>
<polyline points="244.50,427.73 264.85,401.54 273.80,388.82 281.18,372.41 285.93,355.20" fill="none" stroke="#000" stroke-width="1.1" stroke-linejoin="round"/>
<polyline points="244.50,428.80 264.85,404.21 273.80,391.38 280.65,374.81 284.34,358.99" fill="none" stroke="#000" stroke-width="1.1" stroke-linejoin="round"/>
<polyline points="244.50,429.33 264.85,406.61 273.80,393.52 280.13,377.48 283.82,364.92" fill="none" stroke="#000" stroke-width="1.1" stroke-linejoin="round"/>
<polyline points="244.50,430.40 264.85,421.58 275.38,399.29 284.87,369.41 296.47,357.49" fill="none" stroke="#000" stroke-width="1.1" stroke-linejoin="round"/>
<polyline points="244.50,431.47 264.85,423.45 275.38,403.03 285.40,373.74 296.47,359.31" fill="none" stroke="#000" stroke-width="1.1" stroke-linejoin="round"/>
<polyline points="244.50,436.28 264.85,435.74 278.02,442.69 285.93,445.10 296.47,445.90" fill="none" stroke="#8b0000" stroke-width="1.2" stroke-linejoin="round"/>
<polyline points="244.50,435.21 264.85,433.61 278.02,442.69 285.93,445.10 296.47,445.90" fill="none" stroke="#8b0000" stroke-width="1.2" stroke-linejoin="round"/>
<polyline points="244.50,434.14 264.85,432.00 278.02,442.69 285.93,445.10 296.47,445.90" fill="none" stroke="#8b0000" stroke-width="1.2" stroke-linejoin="round"/>
<polyline points="244.50,432.54 264.85,429.86 278.02,442.69 285.93,445.10 296.47,445.90" fill="none" stroke="#8b0000" stroke-width="1.2" stroke-linejoin="round"/>
<polyline points="244.50,430.93 264.85,428.26 278.02,442.69 285.93,445.10 296.47,445.90" fill="none" stroke="#8b0000" stroke-width="1.2" stroke-linejoin="round"/>
<polyline points="244.50,429.86 264.85,423.45 278.02,404.21 285.93,419.17 296.47,435.21 309.64,443.23 320.18,445.63 388.69,445.90" fill="none" stroke="#ee2a2a" stroke-width="1.1" stroke-linejoin="round"/>
<polyline points="244.50,429.86 264.85,425.59 278.02,408.48 285.93,429.86 301.74,441.62 320.18,445.90" fill="none" stroke="#ee2a2a" stroke-width="1.1" stroke-linejoin="round"/>
<polyline points="244.50,429.86 264.85,428.80 278.02,419.17 285.93,418.11 296.47,432.54 309.64,442.69 325.45,445.90" fill="none" stroke="#ee2a2a" stroke-width="1.1" stroke-linejoin="round"/>
<polyline points="244.50,429.86 264.85,429.86 278.02,420.78 283.29,423.45 293.83,435.21 309.64,443.76 320.18,445.90" fill="none" stroke="#ee2a2a" stroke-width="1.1" stroke-linejoin="round"/>
<polyline points="244.50,429.86 264.85,427.73 278.02,405.28 285.93,411.16 301.74,435.21 314.91,444.30 325.45,445.90" fill="none" stroke="#ee2a2a" stroke-width="1.1" stroke-linejoin="round"/>
<polyline points="244.50,429.86 264.85,430.93 278.02,418.11 288.56,429.86 304.37,442.69 320.18,445.90" fill="none" stroke="#ee2a2a" stroke-width="1.1" stroke-linejoin="round"/>
<polyline points="244.50,429.86 264.85,425.59 278.02,372.67 285.93,379.09 296.47,391.38 301.74,408.48 314.91,419.71 325.45,415.97 343.89,404.21 351.80,398.86 388.69,349.69" fill="none" stroke="#ff8c8c" stroke-width="1.2" stroke-linejoin="round"/>
<polyline points="244.50,429.86 264.85,424.52 278.02,399.40 285.93,391.38 296.47,403.14 312.27,416.50 322.81,425.59 338.62,420.24 351.80,398.86" fill="none" stroke="#ff8c8c" stroke-width="1.2" stroke-linejoin="round"/>
<polyline points="244.50,429.86 264.85,427.19 278.02,413.83 283.29,403.14 296.47,413.83 309.64,429.86 320.18,441.62 330.72,439.49 351.80,429.86 375.51,415.97 388.69,394.05" fill="none" stroke="#ff8c8c" stroke-width="1.2" stroke-linejoin="round"/>
<polyline points="244.50,429.86 264.85,429.86 278.02,407.42 283.29,392.45 291.19,408.48 304.37,429.86 320.18,442.69 338.62,445.37" fill="none" stroke="#ff8c8c" stroke-width="1.2" stroke-linejoin="round"/>
<text x="408.60" y="329.90" font-size="17.8" text-anchor="start" fill="#000" font-weight="bold">H</text>
<line x1="431.00" y1="338.40" x2="431.00" y2="446.10" stroke="#111" stroke-width="1.4"/>
<line x1="425.50" y1="446.10" x2="431.00" y2="446.10" stroke="#111" stroke-width="1.4"/>
<text x="0" y="0" transform="translate(424.90,449.50) scale(0.93,1)" font-size="9.4" text-anchor="end" fill="#000">0</text>
<line x1="425.50" y1="392.50" x2="431.00" y2="392.50" stroke="#111" stroke-width="1.4"/>
<text x="0" y="0" transform="translate(424.90,395.90) scale(0.93,1)" font-size="9.4" text-anchor="end" fill="#000">50</text>
<line x1="425.50" y1="338.90" x2="431.00" y2="338.90" stroke="#111" stroke-width="1.4"/>
<text x="0" y="0" transform="translate(424.90,342.30) scale(0.93,1)" font-size="9.4" text-anchor="end" fill="#000">100</text>
<line x1="428.20" y1="435.38" x2="431.00" y2="435.38" stroke="#111" stroke-width="1.26"/>
<line x1="428.20" y1="424.66" x2="431.00" y2="424.66" stroke="#111" stroke-width="1.26"/>
<line x1="428.20" y1="413.94" x2="431.00" y2="413.94" stroke="#111" stroke-width="1.26"/>
<line x1="428.20" y1="403.22" x2="431.00" y2="403.22" stroke="#111" stroke-width="1.26"/>
<line x1="428.20" y1="381.78" x2="431.00" y2="381.78" stroke="#111" stroke-width="1.26"/>
<line x1="428.20" y1="371.06" x2="431.00" y2="371.06" stroke="#111" stroke-width="1.26"/>
<line x1="428.20" y1="360.34" x2="431.00" y2="360.34" stroke="#111" stroke-width="1.26"/>
<line x1="428.20" y1="349.62" x2="431.00" y2="349.62" stroke="#111" stroke-width="1.26"/>
<line x1="430.50" y1="446.10" x2="582.00" y2="446.10" stroke="#111" stroke-width="1.4"/>
<line x1="431.00" y1="446.10" x2="431.00" y2="449.60" stroke="#111" stroke-width="1.4"/>
<text x="0" y="0" transform="translate(431.00,460.60) scale(0.93,1)" font-size="9.4" text-anchor="middle" fill="#000">0</text>
<line x1="446.05" y1="446.10" x2="446.05" y2="449.60" stroke="#111" stroke-width="1.4"/>
<text x="0" y="0" transform="translate(446.05,460.60) scale(0.93,1)" font-size="9.4" text-anchor="middle" fill="#000">10</text>
<line x1="461.10" y1="446.10" x2="461.10" y2="449.60" stroke="#111" stroke-width="1.4"/>
<text x="0" y="0" transform="translate(461.10,460.60) scale(0.93,1)" font-size="9.4" text-anchor="middle" fill="#000">20</text>
<line x1="476.15" y1="446.10" x2="476.15" y2="449.60" stroke="#111" stroke-width="1.4"/>
<text x="0" y="0" transform="translate(476.15,460.60) scale(0.93,1)" font-size="9.4" text-anchor="middle" fill="#000">30</text>
<line x1="491.20" y1="446.10" x2="491.20" y2="449.60" stroke="#111" stroke-width="1.4"/>
<text x="0" y="0" transform="translate(491.20,460.60) scale(0.93,1)" font-size="9.4" text-anchor="middle" fill="#000">40</text>
<line x1="506.25" y1="446.10" x2="506.25" y2="449.60" stroke="#111" stroke-width="1.4"/>
<text x="0" y="0" transform="translate(506.25,460.60) scale(0.93,1)" font-size="9.4" text-anchor="middle" fill="#000">50</text>
<line x1="521.30" y1="446.10" x2="521.30" y2="449.60" stroke="#111" stroke-width="1.4"/>
<text x="0" y="0" transform="translate(521.30,460.60) scale(0.93,1)" font-size="9.4" text-anchor="middle" fill="#000">60</text>
<line x1="536.35" y1="446.10" x2="536.35" y2="449.60" stroke="#111" stroke-width="1.4"/>
<text x="0" y="0" transform="translate(536.35,460.60) scale(0.93,1)" font-size="9.4" text-anchor="middle" fill="#000">70</text>
<line x1="551.40" y1="446.10" x2="551.40" y2="449.60" stroke="#111" stroke-width="1.4"/>
<text x="0" y="0" transform="translate(551.40,460.60) scale(0.93,1)" font-size="9.4" text-anchor="middle" fill="#000">80</text>
<line x1="566.45" y1="446.10" x2="566.45" y2="449.60" stroke="#111" stroke-width="1.4"/>
<text x="0" y="0" transform="translate(566.45,460.60) scale(0.93,1)" font-size="9.4" text-anchor="middle" fill="#000">90</text>
<line x1="581.50" y1="446.10" x2="581.50" y2="449.60" stroke="#111" stroke-width="1.4"/>
<text x="0" y="0" transform="translate(581.50,460.60) scale(0.93,1)" font-size="9.4" text-anchor="middle" fill="#000">100</text>
<text x="506.00" y="474.20" font-size="9.0" text-anchor="middle" fill="#000">Day</text>
<text x="0" y="0" font-size="9.0" text-anchor="middle" fill="#000" transform="translate(411.00,392.40) rotate(-90)">Survival (%)</text>
<polyline points="431.50,339.44 480.67,339.44 480.67,361.41 492.70,361.41 492.70,383.07 501.74,383.07 501.74,404.40 581.50,404.40" fill="none" stroke="#f25050" stroke-width="1.6" stroke-linejoin="round"/>
<polyline points="431.50,340.51 473.14,340.51 473.14,362.27 512.27,362.27 512.27,384.14 531.84,384.14 531.84,427.23 581.50,427.23" fill="none" stroke="#ffb0b0" stroke-width="1.6" stroke-linejoin="round"/>
<polyline points="431.50,338.90 473.14,338.90 473.14,403.22 474.64,403.22 474.64,424.66 479.16,424.66 479.16,446.10" fill="none" stroke="#b01515" stroke-width="1.6" stroke-linejoin="round"/>
<polyline points="431.50,342.12 473.14,342.12 473.14,405.90 479.76,405.90 479.76,446.10" fill="none" stroke="#333" stroke-width="1.5" stroke-linejoin="round"/>
<line x1="521.20" y1="335.70" x2="533.60" y2="335.70" stroke="#444" stroke-width="1.6"/>
<text x="540.60" y="338.30" font-size="7.6" text-anchor="start" fill="#000">BCMA-scFv 1x10<tspan font-size="5.3" dy="-3">6</tspan></text>
<line x1="521.20" y1="348.80" x2="533.60" y2="348.80" stroke="#b01515" stroke-width="1.6"/>
<text x="540.60" y="351.40" font-size="7.6" text-anchor="start" fill="#000">CT041-scFv 1x10<tspan font-size="5.3" dy="-3">6</tspan></text>
<line x1="521.20" y1="361.20" x2="533.60" y2="361.20" stroke="#f25050" stroke-width="1.6"/>
<text x="540.60" y="363.80" font-size="7.6" text-anchor="start" fill="#000">CT041-scFv 3x10<tspan font-size="5.3" dy="-3">5</tspan></text>
<line x1="521.20" y1="373.60" x2="533.60" y2="373.60" stroke="#ffb0b0" stroke-width="1.6"/>
<text x="540.60" y="376.20" font-size="7.6" text-anchor="start" fill="#000">CT041-scFv 1x10<tspan font-size="5.3" dy="-3">5</tspan></text>
<polyline points="605.60,346.80 611.00,346.80 611.00,361.50 605.60,361.50" fill="none" stroke="#333" stroke-width="0.9" stroke-linejoin="round"/>
<text x="620.90" y="357.50" font-size="15" text-anchor="middle" fill="#000" font-weight="bold">**</text>
<text x="614.30" y="361.90" font-size="7.4" text-anchor="start" fill="#000">p=0.0015</text>
<polyline points="605.00,341.10 651.00,341.10 651.00,372.90 605.60,372.90" fill="none" stroke="#333" stroke-width="0.9" stroke-linejoin="round"/>
<text x="657.00" y="360.80" font-size="15" text-anchor="middle" fill="#000" font-weight="bold">*</text>
<text x="654.00" y="364.90" font-size="7.4" text-anchor="start" fill="#000">p=0.016</text>
<text x="0.00" y="501.90" font-size="17.8" text-anchor="start" fill="#000" font-weight="bold">I</text>
<text x="216.50" y="503.00" font-size="10.4" text-anchor="middle" fill="#000">Day</text>
<line x1="28.50" y1="524.30" x2="405.50" y2="524.30" stroke="#777" stroke-width="0.8"/>
<line x1="28.50" y1="523.50" x2="28.50" y2="634.60" stroke="#555" stroke-width="0.9"/>
<line x1="28.50" y1="520.80" x2="28.50" y2="524.30" stroke="#777" stroke-width="0.8"/>
<text x="28.50" y="514.70" font-size="10.4" text-anchor="middle" fill="#000">0</text>
<line x1="65.50" y1="520.80" x2="65.50" y2="524.30" stroke="#777" stroke-width="0.8"/>
<text x="65.50" y="514.70" font-size="10.4" text-anchor="middle" fill="#000">10</text>
<line x1="102.50" y1="520.80" x2="102.50" y2="524.30" stroke="#777" stroke-width="0.8"/>
<text x="102.50" y="514.70" font-size="10.4" text-anchor="middle" fill="#000">20</text>
<line x1="139.50" y1="520.80" x2="139.50" y2="524.30" stroke="#777" stroke-width="0.8"/>
<text x="139.50" y="514.70" font-size="10.4" text-anchor="middle" fill="#000">30</text>
<line x1="176.50" y1="520.80" x2="176.50" y2="524.30" stroke="#777" stroke-width="0.8"/>
<text x="176.50" y="514.70" font-size="10.4" text-anchor="middle" fill="#000">40</text>
<line x1="213.50" y1="520.80" x2="213.50" y2="524.30" stroke="#777" stroke-width="0.8"/>
<text x="213.50" y="514.70" font-size="10.4" text-anchor="middle" fill="#000">50</text>
<line x1="250.50" y1="520.80" x2="250.50" y2="524.30" stroke="#777" stroke-width="0.8"/>
<text x="250.50" y="514.70" font-size="10.4" text-anchor="middle" fill="#000">60</text>
<line x1="287.50" y1="520.80" x2="287.50" y2="524.30" stroke="#777" stroke-width="0.8"/>
<text x="287.50" y="514.70" font-size="10.4" text-anchor="middle" fill="#000">70</text>
<line x1="324.50" y1="520.80" x2="324.50" y2="524.30" stroke="#777" stroke-width="0.8"/>
<text x="324.50" y="514.70" font-size="10.4" text-anchor="middle" fill="#000">80</text>
<line x1="361.50" y1="520.80" x2="361.50" y2="524.30" stroke="#777" stroke-width="0.8"/>
<text x="361.50" y="514.70" font-size="10.4" text-anchor="middle" fill="#000">90</text>
<line x1="398.50" y1="520.80" x2="398.50" y2="524.30" stroke="#777" stroke-width="0.8"/>
<text x="398.50" y="514.70" font-size="10.4" text-anchor="middle" fill="#000">100</text>
<text x="0" y="0" font-size="10.6" text-anchor="middle" fill="#000" transform="translate(18.50,577.00) rotate(-90)">Mouse</text>
<rect x="28.50" y="522.95" width="118.40" height="3.70" fill="#000000" stroke="none" stroke-width="1"/>
<rect x="28.50" y="528.60" width="103.60" height="3.70" fill="#000000" stroke="none" stroke-width="1"/>
<rect x="28.50" y="534.25" width="118.40" height="3.70" fill="#000000" stroke="none" stroke-width="1"/>
<rect x="28.50" y="539.90" width="103.60" height="3.70" fill="#000000" stroke="none" stroke-width="1"/>
<rect x="28.50" y="545.55" width="103.60" height="3.70" fill="#000000" stroke="none" stroke-width="1"/>
<rect x="28.50" y="551.20" width="103.60" height="3.70" fill="#8b0000" stroke="none" stroke-width="1"/>
<rect x="28.50" y="556.85" width="107.30" height="3.70" fill="#8b0000" stroke="none" stroke-width="1"/>
<rect x="28.50" y="562.50" width="103.60" height="3.70" fill="#8b0000" stroke="none" stroke-width="1"/>
<rect x="28.50" y="568.15" width="118.40" height="3.70" fill="#8b0000" stroke="none" stroke-width="1"/>
<rect x="28.50" y="573.80" width="103.60" height="3.70" fill="#8b0000" stroke="none" stroke-width="1"/>
<rect x="28.50" y="579.45" width="370.00" height="3.70" fill="#ff0000" stroke="none" stroke-width="1"/>
<rect x="28.50" y="585.10" width="173.90" height="3.70" fill="#ff0000" stroke="none" stroke-width="1"/>
<rect x="28.50" y="590.75" width="122.10" height="3.70" fill="#ff0000" stroke="none" stroke-width="1"/>
<rect x="28.50" y="596.40" width="370.00" height="3.70" fill="#ff0000" stroke="none" stroke-width="1"/>
<rect x="28.50" y="602.05" width="151.70" height="3.70" fill="#ff0000" stroke="none" stroke-width="1"/>
<rect x="28.50" y="607.70" width="247.90" height="3.70" fill="#ffcccc" stroke="none" stroke-width="1"/>
<rect x="28.50" y="613.35" width="103.60" height="3.70" fill="#ffcccc" stroke="none" stroke-width="1"/>
<rect x="28.50" y="619.00" width="199.80" height="3.70" fill="#ffcccc" stroke="none" stroke-width="1"/>
<rect x="28.50" y="624.65" width="247.90" height="3.70" fill="#ffcccc" stroke="none" stroke-width="1"/>
<rect x="28.50" y="630.30" width="370.00" height="3.70" fill="#ffcccc" stroke="none" stroke-width="1"/>
<circle cx="146.90" cy="524.80" r="2.30" fill="#fff" stroke="#000" stroke-width="1.1"/>
<circle cx="132.10" cy="530.45" r="2.30" fill="#fff" stroke="#000" stroke-width="1.1"/>
<circle cx="146.90" cy="536.10" r="2.30" fill="#fff" stroke="#000" stroke-width="1.1"/>
<circle cx="132.10" cy="541.75" r="2.30" fill="#fff" stroke="#000" stroke-width="1.1"/>
<circle cx="132.10" cy="547.40" r="2.30" fill="#fff" stroke="#000" stroke-width="1.1"/>
<rect x="129.70" y="550.65" width="4.80" height="4.80" fill="#fff" stroke="#f00" stroke-width="1.1"/>
<rect x="133.40" y="556.30" width="4.80" height="4.80" fill="#fff" stroke="#f00" stroke-width="1.1"/>
<rect x="129.70" y="561.95" width="4.80" height="4.80" fill="#fff" stroke="#f00" stroke-width="1.1"/>
<rect x="144.50" y="567.60" width="4.80" height="4.80" fill="#fff" stroke="#f00" stroke-width="1.1"/>
<rect x="129.70" y="573.25" width="4.80" height="4.80" fill="#fff" stroke="#f00" stroke-width="1.1"/>
<polygon points="398.50,577.95 405.30,581.30 398.50,584.65" fill="#00e000"/>
<rect x="200.00" y="584.55" width="4.80" height="4.80" fill="#fff" stroke="#f00" stroke-width="1.1"/>
<rect x="148.20" y="590.20" width="4.80" height="4.80" fill="#fff" stroke="#f00" stroke-width="1.1"/>
<polygon points="398.50,594.90 405.30,598.25 398.50,601.60" fill="#00e000"/>
<rect x="177.80" y="601.50" width="4.80" height="4.80" fill="#fff" stroke="#f00" stroke-width="1.1"/>
<circle cx="276.40" cy="609.55" r="2.30" fill="#fff" stroke="#000" stroke-width="1.1"/>
<rect x="129.70" y="612.80" width="4.80" height="4.80" fill="#fff" stroke="#f00" stroke-width="1.1"/>
<circle cx="228.30" cy="620.85" r="2.30" fill="#fff" stroke="#000" stroke-width="1.1"/>
<circle cx="276.40" cy="626.50" r="2.30" fill="#fff" stroke="#000" stroke-width="1.1"/>
<polygon points="398.50,628.80 405.30,632.15 398.50,635.50" fill="#00e000"/>
<rect x="418.20" y="527.80" width="6.40" height="6.40" fill="#000" stroke="none" stroke-width="1"/>
<text x="426.80" y="534.30" font-size="9.0" text-anchor="start" fill="#000">BCMA-scFv 1x10<tspan font-size="6.2" dy="-3.5">6</tspan></text>
<rect x="418.20" y="541.20" width="6.40" height="6.40" fill="#8b0000" stroke="none" stroke-width="1"/>
<text x="426.80" y="547.70" font-size="9.0" text-anchor="start" fill="#000">CT041-scFv 1x10<tspan font-size="6.2" dy="-3.5">6</tspan></text>
<rect x="418.20" y="554.50" width="6.40" height="6.40" fill="#f00" stroke="none" stroke-width="1"/>
<text x="426.80" y="561.00" font-size="9.0" text-anchor="start" fill="#000">CT041-scFv 3x10<tspan font-size="6.2" dy="-3.5">5</tspan></text>
<rect x="418.20" y="567.70" width="6.40" height="6.40" fill="#ffcccc" stroke="none" stroke-width="1"/>
<text x="426.80" y="574.20" font-size="9.0" text-anchor="start" fill="#000">CT041-scFv 1x10<tspan font-size="6.2" dy="-3.5">5</tspan></text>
<rect x="419.30" y="600.60" width="5.20" height="5.20" fill="#fff" stroke="#f00" stroke-width="1.1"/>
<text x="427.40" y="606.40" font-size="10.5" text-anchor="start" fill="#000">Treatment toxicity</text>
<circle cx="422.00" cy="616.90" r="2.40" fill="#fff" stroke="#000" stroke-width="1.1"/>
<text x="427.40" y="620.80" font-size="10.5" text-anchor="start" fill="#000">Tumor</text>
<polygon points="419,628.5 425.5,631.8 419,635.1" fill="#00e000"/>
<text x="427.40" y="634.80" font-size="10.5" text-anchor="start" fill="#000">Alive</text>
</svg></body></html>
